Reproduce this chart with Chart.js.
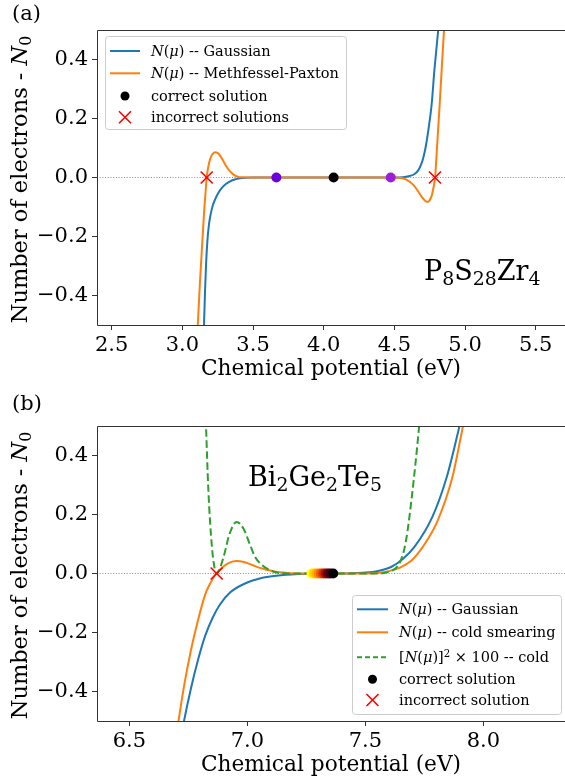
<!DOCTYPE html>
<html><head><meta charset="utf-8">
<script src="https://cdn.jsdelivr.net/npm/chart.js@4.4.0/dist/chart.umd.min.js"></script>
<style>
html,body{margin:0;padding:0;background:#fff;}
#wrap{position:relative;width:565px;height:781px;overflow:hidden;}
.pane{position:absolute;left:0;width:565px;}
</style></head><body>
<div id="wrap">
<div class="pane" style="top:0;height:390px"><canvas id="ca" width="565" height="390"></canvas></div>
<div class="pane" style="top:390px;height:391px"><canvas id="cb" width="565" height="391"></canvas></div>
</div>
<script>
// ---------------- DATA ----------------
// panel (a) P8S28Zr4
const tickXA = [2.5, 3.0, 3.5, 4.0, 4.5, 5.0, 5.5];
const tickY = [-0.4, -0.2, 0.0, 0.2, 0.4];
const muGaussA = [3.135, 3.145, 3.153, 3.16, 3.168, 3.177, 3.188, 3.2, 3.215, 3.231, 3.255, 3.279, 3.31, 3.338, 3.37, 3.408, 3.45, 3.5, 4.5, 4.56, 4.6, 4.64, 4.67, 4.69, 4.705, 4.72, 4.74, 4.764, 4.783, 4.81, 4.835];
const nGaussA  = [-0.82, -0.63, -0.5, -0.39, -0.29, -0.215, -0.16, -0.125, -0.095, -0.075, -0.052, -0.035, -0.021, -0.013, -0.007, -0.003, -0.001, 0, 0, 0.001, 0.004, 0.011, 0.025, 0.045, 0.068, 0.1, 0.16, 0.25, 0.364, 0.5, 0.64];
const muMPA = [3.09, 3.109, 3.125, 3.142, 3.156, 3.165, 3.172, 3.183, 3.196, 3.212, 3.231, 3.25, 3.267, 3.285, 3.302, 3.325, 3.349, 3.37, 3.396, 3.43, 3.46, 4.5, 4.55, 4.588, 4.634, 4.665, 4.694, 4.715, 4.736, 4.752, 4.765, 4.777, 4.788, 4.8, 4.82, 4.835, 4.851, 4.87];
const nMPA  = [-0.68, -0.5, -0.35, -0.21, -0.1, -0.045, 0, 0.035, 0.062, 0.079, 0.086, 0.083, 0.074, 0.06, 0.045, 0.028, 0.015, 0.007, 0.002, 0.0005, 0, 0, -0.002, -0.008, -0.025, -0.045, -0.066, -0.078, -0.083, -0.075, -0.06, -0.033, 0, 0.09, 0.245, 0.37, 0.5, 0.65];
const correctA = [4.07];
const iterA = [3.665, 4.474];
const wrongA = [3.172, 4.787];
// panel (b) Bi2Ge2Te5
const tickXB = [6.5, 7.0, 7.5, 8.0];
const muGaussB = [6.70, 6.731, 6.761, 6.792, 6.822, 6.853, 6.884, 6.929, 6.99, 7.052, 7.143, 7.25, 7.35, 7.45, 7.5, 7.55, 7.609, 7.66, 7.708, 7.784, 7.845, 7.899, 7.94];
const nGaussB  = [-0.64, -0.503, -0.39, -0.29, -0.21, -0.15, -0.105, -0.063, -0.034, -0.017, -0.006, -0.001, 0, 0.001, 0.003, 0.008, 0.022, 0.05, 0.09, 0.192, 0.327, 0.5, 0.64];
const muColdB = [6.68, 6.708, 6.731, 6.761, 6.792, 6.822, 6.845, 6.868, 6.899, 6.925, 6.955, 6.985, 7.021, 7.05, 7.082, 7.12, 7.17, 7.22, 7.45, 7.55, 7.6, 7.647, 7.697, 7.723, 7.76, 7.807, 7.869, 7.914, 7.95];
const nColdB  = [-0.66, -0.503, -0.385, -0.26, -0.155, -0.07, -0.03, 0, 0.024, 0.037, 0.042, 0.039, 0.029, 0.02, 0.013, 0.006, 0.002, 0, 0, 0.002, 0.008, 0.02, 0.045, 0.068, 0.11, 0.18, 0.327, 0.5, 0.63];
const muSqB = [6.815, 6.825, 6.835, 6.85, 6.862, 6.87, 6.88, 6.9, 6.925, 6.955, 6.985, 7.01, 7.033, 7.06, 7.082, 7.12, 7.17, 7.55, 7.6, 7.647, 7.672, 7.697, 7.728, 7.745];
const nSqB  = [0.75, 0.5, 0.28, 0.09, 0.015, 0, 0.01, 0.058, 0.135, 0.175, 0.15, 0.1, 0.056, 0.03, 0.017, 0.004, 0, 0, 0.006, 0.039, 0.11, 0.26, 0.5, 0.66];
const correctB = [7.364];
const iterB = [7.272, 7.282, 7.292, 7.302, 7.312, 7.322, 7.332, 7.342, 7.352];
const wrongB = [6.870];

// ---------------- STYLE ----------------
const FONT = '"DejaVu Serif", serif';
const BLUE = '#1f77b4', ORANGE = '#ff7f0e', GREEN = '#2ca02c';
const iterAColors = ['#6c00dc', '#9c1ed8'];
const iterBColors = ['#ffff00', '#ffd800', '#ffb000', '#ff8800', '#f05a00', '#d03000', '#a01000', '#700008', '#400018'];

const pts = (xs, ys) => xs.map((x, i) => ({x: x, y: ys[i]}));
const onZero = xs => xs.map(x => ({x: x, y: 0}));

function lineDS(xs, ys, color, order, dash) {
  return {data: pts(xs, ys), showLine: true, borderColor: color, borderWidth: 2, pointRadius: 0,
    cubicInterpolationMode: 'monotone', borderDash: dash || [], order: order, fill: false};
}
function zeroDS(min, max) {
  return {data: [{x: min, y: 0}, {x: max, y: 0}], showLine: true, borderColor: '#8a8a8a', borderWidth: 1,
    borderDash: [1, 1.7], pointRadius: 0, order: 20};
}
function dotDS(xs, colors, order, r) {
  return {data: onZero(xs), showLine: false, pointRadius: r || 5, pointStyle: 'circle',
    backgroundColor: colors, borderWidth: 0, order: order};
}
function xDS(xs, order) {
  return {data: onZero(xs), showLine: false, pointRadius: 8.5, pointStyle: 'crossRot',
    borderColor: '#ff0000', backgroundColor: '#ff0000', borderWidth: 1.6, order: order};
}

// ---------------- RICH TEXT ----------------
function segFont(s, size) {
  const sz = (s.sub || s.sup) ? size * 0.7 : size;
  return (s.it ? 'italic ' : '') + sz + 'px ' + FONT;
}
function richWidth(ctx, segs, size) {
  let w = 0;
  for (const s of segs) { ctx.font = segFont(s, size); w += ctx.measureText(s.t).width; }
  return w;
}
function drawRich(ctx, segs, x, y, size, align) {
  const w = richWidth(ctx, segs, size);
  let cx = align === 'center' ? x - w / 2 : (align === 'right' ? x - w : x);
  ctx.textAlign = 'left'; ctx.textBaseline = 'alphabetic'; ctx.fillStyle = '#000';
  for (const s of segs) {
    ctx.font = segFont(s, size);
    const dy = s.sub ? size * 0.2 : (s.sup ? -size * 0.38 : 0);
    ctx.fillText(s.t, cx, y + dy);
    cx += ctx.measureText(s.t).width;
  }
}
const NMU = [{t: 'N', it: 1}, {t: '('}, {t: 'μ', it: 1}, {t: ')'}];
const yTitleSegs = [{t: 'Number of electrons - '}, {t: 'N', it: 1}, {t: '0', sub: 1}];

function drawLegend(ctx, box, rows) {
  ctx.save();
  ctx.beginPath();
  if (ctx.roundRect) ctx.roundRect(box.x + 0.5, box.y + 0.5, box.w, box.h, 3); else ctx.rect(box.x + 0.5, box.y + 0.5, box.w, box.h);
  ctx.fillStyle = 'rgba(255,255,255,0.85)'; ctx.fill();
  ctx.strokeStyle = '#cccccc'; ctx.lineWidth = 1; ctx.stroke();
  for (const r of rows) {
    const cy = r.y;
    if (r.kind === 'line') {
      ctx.beginPath(); ctx.setLineDash(r.dash || []); ctx.strokeStyle = r.color; ctx.lineWidth = 2;
      ctx.moveTo(box.lx0, cy); ctx.lineTo(box.lx1, cy); ctx.stroke(); ctx.setLineDash([]);
    } else if (r.kind === 'dot') {
      ctx.beginPath(); ctx.fillStyle = r.color; ctx.arc((box.lx0 + box.lx1) / 2, cy, 4.5, 0, Math.PI * 2); ctx.fill();
    } else if (r.kind === 'x') {
      const mx = (box.lx0 + box.lx1) / 2, d = 6;
      ctx.beginPath(); ctx.strokeStyle = r.color; ctx.lineWidth = 1.6;
      ctx.moveTo(mx - d, cy - d); ctx.lineTo(mx + d, cy + d); ctx.moveTo(mx + d, cy - d); ctx.lineTo(mx - d, cy + d); ctx.stroke();
    }
    drawRich(ctx, r.segs, box.tx, cy + 5, 14.5, 'left');
  }
  ctx.restore();
}

function decor(spec) {
  return {
    id: 'decor',
    afterDatasetsDraw(chart) {
      const ctx = chart.ctx, a = chart.chartArea;
      ctx.save();
      ctx.strokeStyle = '#333'; ctx.lineWidth = 1;
      ctx.beginPath();
      ctx.moveTo(a.right + 2, Math.round(a.top) + 0.5);
      ctx.lineTo(Math.round(a.left) + 0.5, Math.round(a.top) + 0.5);
      ctx.lineTo(Math.round(a.left) + 0.5, Math.round(a.bottom) + 0.5);
      ctx.lineTo(a.right + 2, Math.round(a.bottom) + 0.5);
      ctx.stroke();
      // panel label
      drawRich(ctx, [{t: spec.label}], 12, 20, 21, 'left');
      // y title
      ctx.save();
      ctx.translate(26.5, (a.top + a.bottom) / 2 + 2);
      ctx.rotate(-Math.PI / 2);
      drawRich(ctx, yTitleSegs, 0, 0, 22.5, 'center');
      ctx.restore();
      // compound annotation
      drawRich(ctx, spec.ann, spec.annX, spec.annY, 27, 'left');
      drawLegend(ctx, spec.legBox, spec.legRows);
      ctx.restore();
    }
  };
}

function zeroPad(s) { s.paddingLeft = 0; s.paddingRight = 0; s.paddingTop = 0; s.paddingBottom = 0; }

function scales(min, max, ticksX, xPadBottom, xHeight) {
  return {
    x: {type: 'linear', min: min, max: max,
      afterBuildTicks: s => { s.ticks = ticksX.map(v => ({value: v})); },
      afterFit: s => { s.height = xHeight; zeroPad(s); },
      ticks: {font: {family: FONT, size: 21}, color: '#000', padding: 3, maxRotation: 0, autoSkip: false,
        callback: v => Number(v).toFixed(1)},
      grid: {display: true, drawOnChartArea: false, drawTicks: true, tickLength: 5, color: '#333', lineWidth: 1},
      border: {display: false},
      title: {display: true, text: 'Chemical potential (eV)', font: {family: FONT, size: 21.7}, color: '#000',
        padding: {top: 0, bottom: xPadBottom}}
    },
    y: {type: 'linear', min: -0.5, max: 0.5,
      afterBuildTicks: s => { s.ticks = tickY.map(v => ({value: v})); },
      afterFit: s => { s.width = 97; zeroPad(s); },
      ticks: {font: {family: FONT, size: 21}, color: '#000', padding: 4, autoSkip: false,
        callback: v => (v < -1e-9 ? '\u2212' : '') + Math.abs(v).toFixed(1)},
      grid: {display: true, drawOnChartArea: false, drawTicks: true, tickLength: 5, color: '#333', lineWidth: 1},
      border: {display: false}
    }
  };
}

const baseOpts = {responsive: false, animation: false, devicePixelRatio: 1, events: [],
  plugins: {legend: {display: false}, tooltip: {enabled: false}, title: {display: false}}};

// ---- panel (a)
const minA = 2.396, maxA = 5.707;
new Chart(document.getElementById('ca'), {
  type: 'scatter',
  data: {datasets: [
    xDS(wrongA, 0),
    dotDS(correctA, '#000000', 1),
    dotDS(iterA, iterAColors, 2),
    lineDS(muMPA, nMPA, ORANGE, 4),
    lineDS(muGaussA, nGaussA, BLUE, 5),
    zeroDS(minA, maxA)
  ]},
  options: Object.assign({}, baseOpts, {
    layout: {autoPadding: false, padding: {top: 30, left: 0, right: 0, bottom: 0}},
    scales: scales(minA, maxA, tickXA, 7.4, 65)
  }),
  plugins: [decor({
    label: '(a)',
    ann: [{t: 'P'}, {t: '8', sub: 1}, {t: 'S'}, {t: '28', sub: 1}, {t: 'Zr'}, {t: '4', sub: 1}],
    annX: 424, annY: 280,
    legBox: {x: 105, y: 36, w: 241, h: 93, lx0: 110, lx1: 140, tx: 151},
    legRows: [
      {kind: 'line', color: BLUE, y: 51, segs: NMU.concat([{t: ' -- Gaussian'}])},
      {kind: 'line', color: ORANGE, y: 73.3, segs: NMU.concat([{t: ' -- Methfessel-Paxton'}])},
      {kind: 'dot', color: '#000', y: 96, segs: [{t: 'correct solution'}]},
      {kind: 'x', color: '#ff0000', y: 117.3, segs: [{t: 'incorrect solutions'}]}
    ]
  })]
});

// ---- panel (b)
const minB = 6.363, maxB = 8.346;
new Chart(document.getElementById('cb'), {
  type: 'scatter',
  data: {datasets: [
    xDS(wrongB, 0),
    dotDS(correctB, '#000000', 1),
    dotDS(iterB, iterBColors, 2),
    lineDS(muSqB, nSqB, GREEN, 3, [7.5, 3.5]),
    lineDS(muColdB, nColdB, ORANGE, 4),
    lineDS(muGaussB, nGaussB, BLUE, 5),
    zeroDS(minB, maxB)
  ]},
  options: Object.assign({}, baseOpts, {
    layout: {autoPadding: false, padding: {top: 36, left: 0, right: 0, bottom: 0}},
    scales: scales(minB, maxB, tickXB, 2.8, 60)
  }),
  plugins: [decor({
    label: '(b)',
    ann: [{t: 'Bi'}, {t: '2', sub: 1}, {t: 'Ge'}, {t: '2', sub: 1}, {t: 'Te'}, {t: '5', sub: 1}],
    annX: 248, annY: 96,
    legBox: {x: 352, y: 205, w: 209, h: 119, lx0: 357, lx1: 388, tx: 399},
    legRows: [
      {kind: 'line', color: BLUE, y: 219.3, segs: NMU.concat([{t: ' -- Gaussian'}])},
      {kind: 'line', color: ORANGE, y: 242.3, segs: NMU.concat([{t: ' -- cold smearing'}])},
      {kind: 'line', color: GREEN, dash: [5, 3], y: 267.3, segs: [{t: '['}].concat(NMU, [{t: ']'}, {t: '2', sup: 1}, {t: ' × 100 -- cold'}])},
      {kind: 'dot', color: '#000', y: 289.3, segs: [{t: 'correct solution'}]},
      {kind: 'x', color: '#ff0000', y: 310, segs: [{t: 'incorrect solution'}]}
    ]
  })]
});
</script>
</body></html>
